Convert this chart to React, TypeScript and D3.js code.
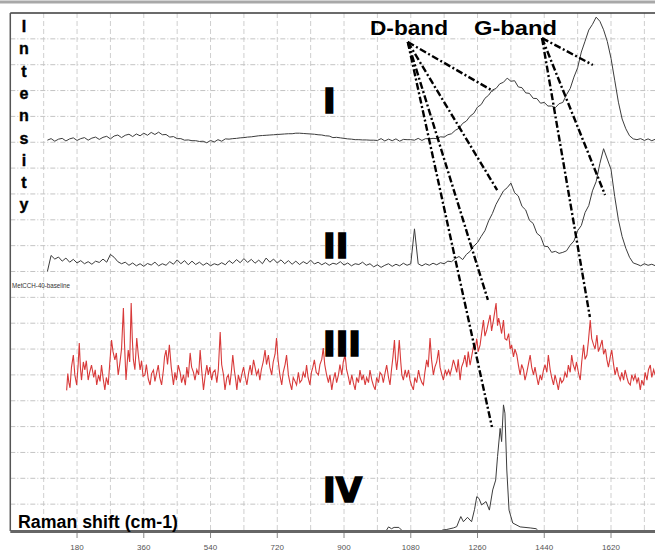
import React from "react";
import * as d3 from "d3";

// ---- data (Raman shift in cm-1, intensity in arbitrary stacked units) ----
const xTicks = [180, 360, 540, 720, 900, 1080, 1260, 1440, 1620];
const spectrumLabels = ["I", "II", "III", "IV"];
const bandLabels = ["D-band", "G-band"];
const axisTitleX = "Raman shift (cm-1)";
const axisTitleY = "Intensity";
const seriesIIIName = "MetCCH-40-baseline";

// Spectra I and II sampled every 10 cm-1 from 100 to 1740
const gridStart = 100;
const gridStep = 10;
const seriesI = [
  15.08, 15.14, 15.04, 15.12, 15.15, 15.05, 15.13, 15.17, 15.07, 15.14,
  15.18, 15.08, 15.16, 15.2, 15.11, 15.19, 15.23, 15.13, 15.24, 15.28,
  15.18, 15.27, 15.31, 15.22, 15.32, 15.25, 15.35, 15.27, 15.38, 15.3,
  15.39, 15.29, 15.3, 15.2, 15.22, 15.14, 15.14, 15.08, 15.09, 15.06,
  15.06, 15.03, 15.04, 14.98, 15.07, 15.01, 15.1, 15.04, 15.13, 15.12,
  15.14, 15.15, 15.17, 15.18, 15.2, 15.21, 15.23, 15.25, 15.26, 15.27,
  15.28, 15.29, 15.3, 15.31, 15.32, 15.33, 15.33, 15.35, 15.35, 15.34,
  15.33, 15.32, 15.31, 15.29, 15.28, 15.25, 15.24, 15.18, 15.19, 15.17,
  15.15, 15.13, 15.12, 15.1, 15.1, 15.09, 15.09, 15.08, 15.08, 15.07,
  15.14, 15.05, 15.12, 15.06, 15.13, 15.04, 15.11, 15.1, 15.1, 15.08,
  15.15, 15.07, 15.14, 15.13, 15.15, 15.14, 15.21, 15.2, 15.29, 15.33,
  15.46, 15.54, 15.73, 15.82, 16.01, 16.12, 16.36, 16.46, 16.7, 16.82,
  17.02, 17.08, 17.26, 17.32, 17.48, 17.36, 17.38, 17.14, 17.11, 16.91,
  16.89, 16.7, 16.69, 16.51, 16.54, 16.4, 16.4, 16.34, 16.49, 16.54,
  16.84, 17.08, 17.52, 17.88, 18.49, 18.91, 19.34, 19.56, 19.84, 19.68,
  19.35, 18.9, 18.25, 17.4, 16.55, 15.9, 15.52, 15.25, 15.13, 15.1,
  15.14, 15.07, 15.13, 15.06, 15.12,
];
const seriesII = [
  10.0, 10.62, 10.48, 10.56, 10.4, 10.52, 10.36, 10.47, 10.33, 10.42,
  10.3, 10.38, 10.28, 10.4, 10.35, 10.48, 10.36, 10.66, 10.55, 10.38,
  10.3, 10.36, 10.24, 10.33, 10.22, 10.3, 10.2, 10.31, 10.25, 10.36,
  10.22, 10.3, 10.24, 10.38, 10.28, 10.45, 10.3, 10.42, 10.26, 10.4,
  10.27, 10.36, 10.24, 10.33, 10.22, 10.3, 10.25, 10.34, 10.26, 10.42,
  10.31, 10.46, 10.34, 10.5, 10.35, 10.47, 10.32, 10.44, 10.3, 10.52,
  10.36, 10.48, 10.33, 10.45, 10.3, 10.42, 10.28, 10.4, 10.27, 10.38,
  10.3, 10.44, 10.29, 10.36, 10.26, 10.34, 10.24, 10.32, 10.28, 10.38,
  10.25, 10.33, 10.22, 10.3, 10.27, 10.36, 10.24, 10.3, 10.18, 10.26,
  10.16, 10.24, 10.3, 10.2, 10.28, 10.22, 10.32, 10.24, 10.3, 11.65,
  10.3, 10.22, 10.3, 10.24, 10.32, 10.26, 10.34, 10.3, 10.4, 10.38,
  10.5, 10.58, 10.46, 10.66, 10.78, 10.98, 11.12, 11.36, 11.58, 11.96,
  12.24, 12.6, 12.86, 13.12, 13.24, 13.42, 13.05, 12.92, 12.52, 12.38,
  11.98, 11.86, 11.48, 11.36, 10.98, 10.96, 10.74, 10.78, 10.7, 10.74,
  10.8, 11.02, 11.18, 11.58, 11.78, 12.28, 12.55, 13.12, 13.48, 14.18,
  14.75, 14.35, 13.95, 12.9, 12.0, 11.35, 10.9, 10.55, 10.33, 10.28,
  10.22, 10.3, 10.24, 10.28, 10.22,
];

// Spectrum III (red, noisy) as [shift, intensity]
const seriesIII: [number, number][] = [
  [152, 5.4], [155, 6.05], [158, 5.7], [161, 5.5], [165, 6.3], [170, 6.77], [174, 6.0], [179, 5.61], [183, 6.4], [186, 7.23],
  [189, 6.3], [192, 5.8], [197, 6.5], [201, 6.19], [205, 6.55], [210, 5.8], [214, 6.1], [219, 6.38], [225, 5.9], [229, 6.2],
  [233, 5.61], [238, 6.0], [242, 5.75], [246, 6.38], [250, 5.9], [255, 5.42], [259, 5.9], [264, 5.61], [268, 6.4], [273, 7.35],
  [277, 6.9], [282, 6.58], [286, 6.85], [291, 6.0], [295, 6.4], [300, 7.0], [305, 8.59], [308, 7.2], [312, 5.8], [315, 6.4],
  [318, 6.96], [322, 6.5], [326, 8.78], [329, 7.4], [332, 6.58], [336, 6.2], [341, 7.43], [345, 6.8], [350, 6.19], [354, 6.55],
  [358, 5.95], [363, 6.0], [367, 6.4], [372, 5.85], [377, 5.61], [381, 6.05], [386, 6.19], [390, 5.75], [395, 6.1], [399, 6.38],
  [403, 5.9], [408, 5.61], [413, 6.2], [416, 6.7], [420, 6.96], [424, 6.4], [429, 7.16], [434, 6.3], [440, 5.61], [444, 6.1],
  [448, 5.8], [453, 6.38], [458, 6.1], [462, 5.7], [467, 6.0], [472, 5.6], [476, 6.3], [480, 5.9], [485, 6.85], [489, 6.3],
  [494, 6.1], [498, 5.8], [503, 6.2], [508, 6.0], [512, 6.96], [516, 6.2], [521, 5.42], [525, 5.9], [530, 6.38], [534, 6.0],
  [538, 6.3], [543, 5.8], [547, 6.1], [552, 6.19], [557, 5.7], [561, 6.2], [566, 7.66], [570, 6.4], [575, 6.0], [579, 5.42],
  [584, 5.9], [588, 6.0], [592, 5.6], [596, 6.1], [600, 6.77], [604, 6.2], [608, 5.8], [611, 5.42], [615, 6.0], [620, 5.7],
  [624, 6.0], [629, 6.3], [634, 5.9], [638, 5.61], [643, 6.1], [647, 6.38], [651, 6.0], [656, 6.58], [660, 6.3], [664, 6.0],
  [669, 6.19], [673, 5.8], [677, 6.2], [682, 6.5], [687, 6.96], [691, 6.4], [696, 6.77], [700, 6.3], [705, 6.0], [709, 6.5],
  [714, 6.8], [718, 7.43], [722, 6.6], [727, 6.0], [732, 5.61], [736, 6.1], [741, 6.4], [745, 6.77], [750, 6.0], [754, 5.7],
  [759, 5.42], [763, 5.9], [768, 5.75], [772, 5.61], [777, 6.1], [781, 5.7], [786, 5.8], [790, 6.1], [795, 5.9], [799, 6.38],
  [803, 5.9], [808, 5.61], [812, 6.1], [816, 6.3], [820, 6.58], [825, 6.1], [831, 6.0], [835, 6.4], [840, 6.6], [844, 7.04],
  [848, 6.4], [853, 6.0], [858, 5.7], [862, 6.0], [867, 5.42], [871, 5.8], [876, 6.1], [880, 5.7], [885, 6.0], [889, 6.4],
  [894, 6.0], [898, 6.5], [903, 6.77], [907, 6.2], [912, 5.9], [916, 5.61], [921, 6.0], [925, 5.7], [930, 5.42], [934, 5.9],
  [939, 5.7], [943, 6.19], [948, 5.8], [952, 6.0], [957, 5.61], [961, 5.9], [966, 5.7], [970, 6.19], [975, 5.8], [979, 5.6],
  [984, 5.42], [988, 5.9], [993, 5.7], [997, 6.1], [1002, 6.0], [1006, 5.7], [1011, 6.1], [1015, 6.38], [1020, 5.9], [1024, 5.61],
  [1028, 6.2], [1032, 6.7], [1036, 7.35], [1039, 6.6], [1042, 6.19], [1045, 6.6], [1049, 7.35], [1053, 6.5], [1056, 6.0], [1060, 5.8],
  [1065, 6.2], [1069, 5.9], [1074, 6.19], [1078, 5.8], [1082, 5.6], [1087, 5.42], [1091, 5.9], [1096, 5.7], [1101, 6.19], [1105, 5.9],
  [1110, 5.7], [1114, 5.61], [1118, 6.1], [1123, 6.58], [1127, 6.3], [1132, 7.43], [1136, 6.6], [1141, 6.0], [1145, 6.3], [1150, 6.5],
  [1155, 6.96], [1159, 6.3], [1164, 6.0], [1168, 5.8], [1173, 6.2], [1177, 6.0], [1182, 6.19], [1186, 6.0], [1191, 6.3], [1195, 6.58],
  [1199, 6.38], [1204, 6.1], [1208, 6.6], [1213, 5.8], [1217, 6.3], [1222, 6.5], [1226, 6.77], [1231, 6.3], [1235, 6.9], [1240, 6.38],
  [1244, 6.7], [1249, 7.1], [1253, 6.96], [1258, 7.4], [1262, 6.9], [1267, 7.16], [1271, 7.6], [1276, 8.12], [1280, 7.5], [1285, 7.74],
  [1289, 8.0], [1294, 8.32], [1298, 7.7], [1303, 8.12], [1306, 8.4], [1310, 8.78], [1314, 7.9], [1317, 8.2], [1321, 7.93], [1325, 7.6],
  [1330, 8.12], [1334, 7.4], [1339, 7.35], [1344, 7.6], [1348, 7.0], [1352, 7.16], [1357, 6.7], [1361, 7.0], [1366, 6.77], [1370, 6.4],
  [1375, 6.0], [1379, 6.4], [1384, 6.2], [1388, 5.8], [1393, 6.1], [1397, 6.4], [1402, 6.77], [1406, 6.3], [1411, 6.0], [1415, 6.3],
  [1420, 5.9], [1424, 5.61], [1429, 6.0], [1433, 5.8], [1438, 6.19], [1442, 6.4], [1447, 6.1], [1451, 6.77], [1456, 6.2], [1460, 5.9],
  [1465, 5.61], [1469, 6.0], [1474, 5.7], [1478, 5.42], [1483, 5.9], [1487, 5.7], [1492, 5.8], [1496, 6.1], [1501, 5.9], [1505, 6.38],
  [1510, 6.1], [1514, 6.77], [1518, 6.4], [1523, 6.19], [1527, 6.5], [1532, 6.1], [1537, 5.8], [1541, 6.5], [1546, 7.16], [1550, 6.6],
  [1555, 6.77], [1559, 7.3], [1564, 8.12], [1568, 7.4], [1573, 7.16], [1577, 7.0], [1582, 7.54], [1586, 6.9], [1591, 7.1], [1596, 7.35],
  [1600, 6.8], [1605, 7.0], [1609, 6.58], [1613, 6.3], [1618, 6.7], [1622, 6.96], [1627, 6.4], [1631, 6.0], [1636, 6.3], [1640, 6.0],
  [1645, 5.8], [1649, 6.1], [1654, 5.8], [1658, 6.19], [1663, 5.9], [1667, 5.7], [1672, 5.61], [1676, 6.0], [1681, 5.8], [1685, 6.0],
  [1690, 5.7], [1694, 5.9], [1699, 5.42], [1703, 5.8], [1708, 5.6], [1712, 6.1], [1717, 5.8], [1721, 6.2], [1726, 6.38], [1730, 5.9],
  [1735, 6.2], [1739, 6.0],
];

// Spectrum IV (reference compound) as [shift, intensity]
const seriesIVa: [number, number][] = [
  [1015, 0.0], [1020, 0.12], [1028, 0.05], [1035, 0.1], [1048, 0.1], [1055, 0.0],
];
const seriesIVb: [number, number][] = [
  [1165, 0.0], [1177, 0.02], [1195, 0.08], [1204, 0.13], [1210, 0.35], [1215, 0.52], [1222, 0.32], [1233, 0.49],
  [1244, 0.32], [1252, 0.8], [1258, 1.29], [1264, 1.22], [1271, 0.97], [1283, 1.1], [1292, 0.77], [1301, 1.55],
  [1309, 1.93], [1314, 2.84], [1321, 3.93], [1325, 3.42], [1330, 4.84], [1334, 4.52], [1339, 2.32], [1345, 0.77],
  [1355, 0.27], [1375, 0.12], [1402, 0.08], [1418, 0.05], [1422, 0.0],
];

// Band annotation anchors [shift, intensity]
const dBandOrigin: [number, number] = [1072, 18.88];
const gBandOrigin: [number, number] = [1434, 19.03];
const dBandTargets: [number, number][] = [[1302, 16.98], [1313, 13.15], [1288, 8.9], [1299, 3.98]];
const gBandTargets: [number, number][] = [[1571, 17.99], [1604, 12.96], [1563, 8.24]];

const W = 655;
const H = 554;

export default function App() {
  const x = d3.scaleLinear().domain([0, 1740]).range([10.3, 655.5]);
  const y = d3.scaleLinear().domain([0, 20]).range([530, 13]);
  const line = d3
    .line<[number, number]>()
    .x((d) => x(d[0]))
    .y((d) => y(d[1]));

  const grid = d3.range(seriesI.length).map((i) => gridStart + i * gridStep);
  const dataI = grid.map((v, i) => [v, seriesI[i]] as [number, number]);
  const dataII = grid.map((v, i) => [v, seriesII[i]] as [number, number]);

  const vGrid = d3.range(90, 1740, 90);
  const hGrid = d3.range(1, 20, 1);

  const bold = "'Liberation Sans', Arial, sans-serif";
  const dash = "7,2.5,2,2.5";

  return (
    <svg
      width={W}
      height={H}
      style={{ position: "absolute", left: 0, top: 0, background: "#fff" }}
    >
      <rect x={0} y={0} width={W} height={H} fill="#fff" />
      <line x1={0} x2={W} y1={2} y2={2} stroke="#a8a8a8" strokeWidth={3} />
      {/* grid */}
      {vGrid.map((v) => (
        <line key={"v" + v} x1={x(v)} x2={x(v)} y1={y(20)} y2={y(0)} stroke="#cfcfcf" strokeWidth={1} strokeDasharray="5,3" />
      ))}
      {hGrid.map((v) => (
        <line key={"h" + v} x1={x(0)} x2={W} y1={y(v)} y2={y(v)} stroke="#c4c4c4" strokeWidth={1} strokeDasharray="5,2,1,2" />
      ))}
      {/* frame */}
      <line x1={x(0)} x2={W} y1={y(20)} y2={y(20)} stroke="#3a3a3a" strokeWidth={1.5} />
      <line x1={x(0)} x2={x(0)} y1={y(20)} y2={y(0) + 1} stroke="#555" strokeWidth={1.5} />

      {/* spectra */}
      <path d={line(dataI) || ""} fill="none" stroke="#3c3c3c" strokeWidth={1} />
      <path d={line(dataII) || ""} fill="none" stroke="#3c3c3c" strokeWidth={1} />
      <path d={line(seriesIII) || ""} fill="none" stroke="#d83a3a" strokeWidth={1.1} />
      <path d={line(seriesIVa) || ""} fill="none" stroke="#3c3c3c" strokeWidth={1} />
      <path d={line(seriesIVb) || ""} fill="none" stroke="#3c3c3c" strokeWidth={1} />

      {/* bottom axis */}
      <line x1={x(0)} x2={W} y1={y(0) + 1.5} y2={y(0) + 1.5} stroke="#666" strokeWidth={3} />
      {xTicks.map((t) => (
        <g key={"t" + t}>
          <line x1={x(t)} x2={x(t)} y1={y(0) + 3} y2={y(0) + 8} stroke="#888" strokeWidth={1} />
          <text x={x(t)} y={550} textAnchor="middle" fontSize={8} fill="#555" fontFamily="'Liberation Sans Narrow', 'Liberation Sans', Arial, sans-serif">
            {t}
          </text>
        </g>
      ))}

      {/* annotation lines */}
      {dBandTargets.map((t, i) => (
        <line key={"d" + i} x1={x(dBandOrigin[0])} y1={y(dBandOrigin[1])} x2={x(t[0])} y2={y(t[1])} stroke="#000" strokeWidth={2.4} strokeDasharray={dash} />
      ))}
      {gBandTargets.map((t, i) => (
        <line key={"g" + i} x1={x(gBandOrigin[0])} y1={y(gBandOrigin[1])} x2={x(t[0])} y2={y(t[1])} stroke="#000" strokeWidth={2.4} strokeDasharray={dash} />
      ))}

      {/* texts */}
      <text x={370} y={35} fontFamily={bold} fontWeight="bold" fontSize={21} textLength={78} lengthAdjust="spacingAndGlyphs" fill="#000">
        {bandLabels[0]}
      </text>
      <text x={474} y={35} fontFamily={bold} fontWeight="bold" fontSize={21} textLength={83} lengthAdjust="spacingAndGlyphs" fill="#000">
        {bandLabels[1]}
      </text>
      {axisTitleY.split("").map((c, i) => (
        <text key={"iy" + i} x={24} y={32 + i * 22.3} textAnchor="middle" fontFamily={bold} fontWeight="bold" fontSize={16} fill="#000" stroke="#000" strokeWidth={0.4}>
          {c}
        </text>
      ))}
      <text x={18} y={528} fontFamily={bold} fontWeight="bold" fontSize={18} textLength={160} lengthAdjust="spacingAndGlyphs" fill="#000">
        {axisTitleX}
      </text>
      <text x={12} y={288} fontFamily="'Liberation Sans Narrow', 'Liberation Sans', Arial, sans-serif" fontSize={8} textLength={58} lengthAdjust="spacingAndGlyphs" fill="#333">
        {seriesIIIName}
      </text>
      {spectrumLabels.map((s, i) => {
        const ys = [113, 258, 356, 502];
        return (
          <text key={s} x={323} y={ys[i]} fontFamily="'DejaVu Sans', sans-serif" fontWeight="bold" fontSize={34} fill="#000" stroke="#000" strokeWidth={1.6}>
            {s}
          </text>
        );
      })}
    </svg>
  );
}
